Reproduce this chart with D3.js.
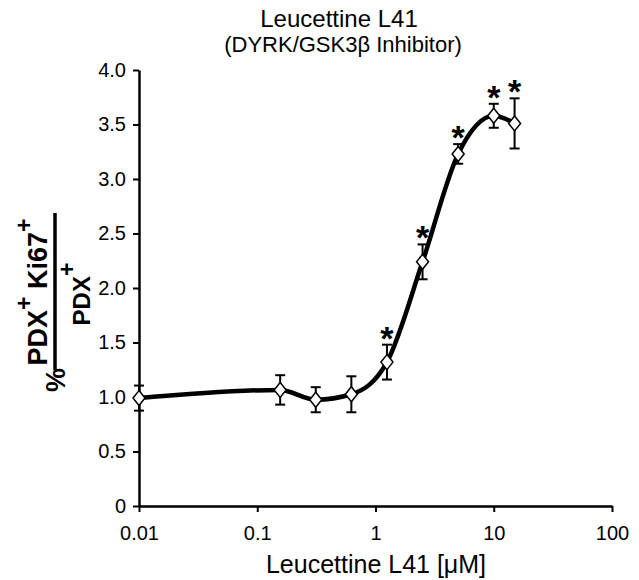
<!DOCTYPE html>
<html>
<head>
<meta charset="utf-8">
<script src="https://cdn.jsdelivr.net/npm/d3@7"></script>
<style>
  body { margin: 0; background: #fff; }
  text { font-family: Arial, "Liberation Sans", sans-serif; fill: #000; }
</style>
</head>
<body>
<svg id="chart" width="639" height="580"></svg>
<script>
// data
var concentrations = [0.01, 0.15625, 0.3125, 0.625, 1.25, 2.5, 5, 10, 15]
var means = [0.99, 1.065, 0.975, 1.025, 1.32, 2.24, 3.23, 3.58, 3.51]
var errors = [0.115, 0.135, 0.115, 0.165, 0.16, 0.16, 0.09, 0.11, 0.23]
var significant = [false, false, false, false, true, true, true, true, true]
var xTicks = [0.01, 0.1, 1, 10, 100]
var yTicks = [0, 0.5, 1, 1.5, 2, 2.5, 3, 3.5, 4]

var svg = d3.select("#chart")
var margin = {top: 70, right: 27, bottom: 74, left: 139}
var width = 639 - margin.left - margin.right
var height = 580 - margin.top - margin.bottom

var points = concentrations.map((c, i) => ({x: c, y: means[i], err: errors[i], sig: significant[i]}))

var x = d3.scaleLog().domain([0.01, 100]).range([0, width])
var y = d3.scaleLinear().domain([0, 4]).range([height, 0])

var g = svg.append("g").attr("transform", "translate(" + margin.left + "," + margin.top + ")")

// axes
var xAxis = g.append("g")
  .attr("transform", "translate(0," + height + ")")
  .call(d3.axisBottom(x).tickValues(xTicks).tickSize(6).tickSizeOuter(0).tickFormat(d => String(d)))
var yAxis = g.append("g")
  .call(d3.axisLeft(y).tickValues(yTicks).tickSize(6).tickSizeOuter(0).tickFormat(d => d === 0 ? "0" : d3.format(".1f")(d)))

;[xAxis, yAxis].forEach(a => {
  a.select(".domain").attr("stroke", "#000").attr("stroke-width", 2.5)
  a.selectAll(".tick line").attr("stroke", "#000").attr("stroke-width", 2)
  a.selectAll(".tick text").style("font-size", "20px").style("font-family", "Arial, 'Liberation Sans', sans-serif")
})
xAxis.selectAll(".tick text").attr("y", 20).attr("dy", "0.71em")
yAxis.selectAll(".tick text").attr("x", -13)

// error bars
var eb = g.append("g").selectAll("g").data(points).enter().append("g")
eb.append("line")
  .attr("x1", d => x(d.x)).attr("x2", d => x(d.x))
  .attr("y1", d => y(d.y + d.err)).attr("y2", d => y(d.y - d.err))
  .attr("stroke", "#000").attr("stroke-width", 2)
;[1, -1].forEach(s => {
  eb.append("line")
    .attr("x1", d => x(d.x) - 5).attr("x2", d => x(d.x) + 5)
    .attr("y1", d => y(d.y + s * d.err)).attr("y2", d => y(d.y + s * d.err))
    .attr("stroke", "#000").attr("stroke-width", 2)
})

// fitted curve
var line = d3.line().x(d => x(d.x)).y(d => y(d.y)).curve(d3.curveMonotoneX)
g.append("path").datum(points)
  .attr("d", line)
  .attr("fill", "none").attr("stroke", "#000").attr("stroke-width", 4.5)
  .attr("stroke-linejoin", "round")

// diamond markers
g.append("g").selectAll("path").data(points).enter().append("path")
  .attr("transform", d => "translate(" + x(d.x) + "," + y(d.y) + ")")
  .attr("d", "M0,-7.5L6,0L0,7.5L-6,0Z")
  .attr("fill", "#fff").attr("stroke", "#000").attr("stroke-width", 1.5)

// significance stars
g.append("g").selectAll("text").data(points.filter(d => d.sig)).enter().append("text")
  .attr("x", d => x(d.x)).attr("y", d => y(d.y + d.err) + 5)
  .attr("text-anchor", "middle")
  .style("font-size", "34px").style("font-weight", "bold")
  .text("*")

// titles
svg.append("text").attr("x", 339).attr("y", 27).attr("text-anchor", "middle")
  .style("font-size", "24px").text("Leucettine L41")
svg.append("text").attr("x", 343).attr("y", 52).attr("text-anchor", "middle")
  .style("font-size", "22px").text("(DYRK/GSK3β Inhibitor)")

// x axis title
svg.append("text").attr("x", 376).attr("y", 573).attr("text-anchor", "middle")
  .style("font-size", "25px").text("Leucettine L41 [μM]")

// y axis title as a fraction
var yl = svg.append("g").attr("transform", "rotate(-90)")
  .style("font-weight", "bold")
var num = yl.append("text").attr("x", -292).attr("y", 47).attr("text-anchor", "middle")
  .style("font-size", "27px")
num.append("tspan").text("PDX")
num.append("tspan").attr("dy", -15).style("font-size", "23px").text("+")
num.append("tspan").attr("dy", 15).text(" Ki67")
num.append("tspan").attr("dy", -15).style("font-size", "23px").text("+")
var den = yl.append("text").attr("x", -294).attr("y", 90).attr("text-anchor", "middle")
  .style("font-size", "24px")
den.append("tspan").text("PDX")
den.append("tspan").attr("dy", -15).style("font-size", "23px").text("+")
yl.append("line").attr("x1", -370).attr("x2", -213).attr("y1", 55).attr("y2", 55)
  .attr("stroke", "#000").attr("stroke-width", 3.5)
yl.append("text").attr("x", -380).attr("y", 65).attr("text-anchor", "middle")
  .style("font-size", "27px").text("%")
</script>
</body>
</html>
